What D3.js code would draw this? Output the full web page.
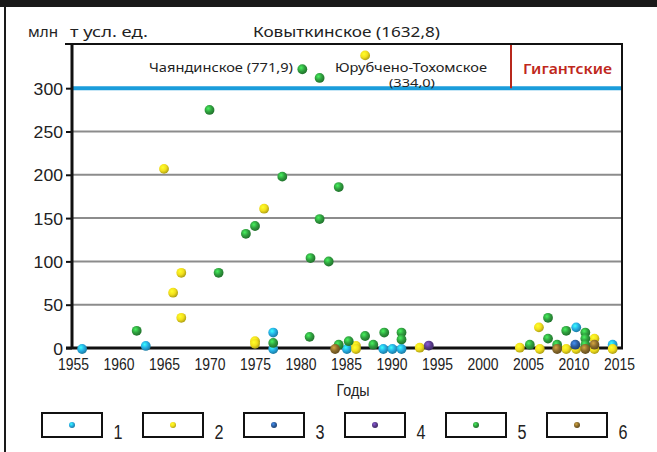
<!DOCTYPE html>
<html>
<head>
<meta charset="utf-8">
<script src="https://cdn.jsdelivr.net/npm/d3@7"></script>
<style>
  body { margin: 0; background: #fff; }
  svg { display: block; }
</style>
</head>
<body>
<div id="chart"></div>
<script>
// Категории месторождений (легенда)
const categories = ['1', '2', '3', '4', '5', '6'];

// Подписи осей
const xTicks = [1955, 1960, 1965, 1970, 1975, 1980, 1985, 1990, 1995, 2000, 2005, 2010, 2015];
const yTicks = [0, 50, 100, 150, 200, 250, 300];
const gridValues = [50, 100, 150, 200, 250];
const giantLimit = 300;

// Точки: [год открытия, запасы, млн т усл. ед.]
const series1 = [[1956, 0], [1963, 3.5], [1977, 19], [1977, 0], [1985.1, 0], [1989.1, 0],
  [1990.1, 0], [1991.1, 0], [2010.3, 25], [2014.3, 5]];
const series2 = [[1965, 208], [1976, 162], [1966.9, 88], [1966, 65], [1966.9, 36], [1975, 9],
  [1975, 6], [1986.1, 3.5], [1986.1, 0], [1993.1, 1.5], [1987.1, 339], [2004.1, 1.5],
  [2006.3, 0], [2006.2, 25], [2009.2, 0], [2010.3, 0], [2012.3, 12], [2012.3, 0], [2014.3, 0]];
const series3 = [[2010.2, 5]];
const series4 = [[1994.1, 4]];
const series5 = [[1980.2, 323], [1982.1, 313], [1970, 276], [1978, 199], [1975, 142],
  [1974, 133], [1982.1, 150], [1984.2, 187], [1981.1, 105], [1983.1, 101], [1971, 88],
  [1962, 21], [1977, 7], [1981, 14], [1984.2, 5], [1985.3, 9], [1987.1, 15], [1988, 5],
  [1989.2, 19], [1991.1, 19], [1991.1, 11], [2005.2, 5], [2007.2, 36], [2007.2, 12],
  [2008.2, 5], [2009.2, 21], [2011.3, 19], [2011.3, 12], [2011.3, 5]];
const series6 = [[1983.8, 0], [2008.2, 0], [2011.3, 0], [2012.3, 5]];

const seriesList = [series1, series2, series3, series4, series5, series6];

(function () {
  const WIDTH = 657;
  const HEIGHT = 452;

  // Границы области графика
  const PLOT = { LEFT: 72, RIGHT: 622, TOP: 44, BOTTOM: 348 };

  const COLORS = ['#25ace2', '#f2df1c', '#2c5d9e', '#5a3b8c', '#2f9e3e', '#8b6c2b'];
  const NUM_FONT = '"Liberation Sans", Arial, sans-serif';
  const TXT_FONT = '"Noto Sans", "Open Sans", sans-serif';

  const svg = d3.select('#chart').append('svg')
    .attr('width', WIDTH)
    .attr('height', HEIGHT)
    .style('background', '#fff');

  // Градиенты для «объёмных» точек
  const defs = svg.append('defs');
  COLORS.forEach((c, i) => {
    const g = defs.append('radialGradient')
      .attr('id', `ball-${i}`)
      .attr('cx', '38%').attr('cy', '35%').attr('r', '65%');
    g.append('stop').attr('offset', '0%').attr('stop-color', d3.color(c).brighter(1.2));
    g.append('stop').attr('offset', '55%').attr('stop-color', c);
    g.append('stop').attr('offset', '100%').attr('stop-color', d3.color(c).darker(0.9));
  });

  // Рамка страницы
  svg.append('rect').attr('x', 0).attr('y', 0).attr('width', WIDTH).attr('height', 7).attr('fill', '#1a1a1a');
  svg.append('line').attr('x1', 5).attr('x2', 5).attr('y1', 7).attr('y2', HEIGHT)
    .attr('stroke', '#1a1a1a').attr('stroke-width', 2);

  const x = d3.scaleLinear().domain([1955, 2015]).range([73, 619]);
  const y = d3.scaleLinear().domain([0, 351]).range([PLOT.BOTTOM, PLOT.TOP]);

  // Сетка
  svg.append('g').selectAll('line')
    .data(gridValues)
    .enter().append('line')
    .attr('x1', PLOT.LEFT).attr('x2', PLOT.RIGHT)
    .attr('y1', d => y(d)).attr('y2', d => y(d))
    .attr('stroke', '#8c8c8c').attr('stroke-width', 2);

  // Граница «гигантских» месторождений
  svg.append('line')
    .attr('x1', PLOT.LEFT).attr('x2', PLOT.RIGHT)
    .attr('y1', y(giantLimit)).attr('y2', y(giantLimit))
    .attr('stroke', '#1b9ddb').attr('stroke-width', 4);

  svg.append('line')
    .attr('x1', 511).attr('x2', 511)
    .attr('y1', PLOT.TOP).attr('y2', y(giantLimit))
    .attr('stroke', '#b8281c').attr('stroke-width', 2);

  // Рамка области графика
  svg.append('line').attr('x1', 65).attr('x2', PLOT.RIGHT + 1).attr('y1', PLOT.TOP).attr('y2', PLOT.TOP)
    .attr('stroke', '#111').attr('stroke-width', 2);
  svg.append('line').attr('x1', PLOT.RIGHT).attr('x2', PLOT.RIGHT).attr('y1', PLOT.TOP).attr('y2', PLOT.BOTTOM + 1)
    .attr('stroke', '#111').attr('stroke-width', 2);

  // Ось Y
  const yAxis = svg.append('g')
    .attr('transform', `translate(${PLOT.LEFT}, 0)`)
    .call(d3.axisLeft(y).tickValues(yTicks).tickSize(6).tickPadding(3).tickFormat(d3.format('d')));
  yAxis.select('.domain').attr('d', `M0,${PLOT.TOP}V${PLOT.BOTTOM + 1}`)
    .attr('stroke', '#111').attr('stroke-width', 3);
  yAxis.selectAll('.tick line').attr('stroke', '#111').attr('stroke-width', 2);
  yAxis.selectAll('.tick text')
    .attr('font-family', NUM_FONT).attr('font-size', 17).attr('fill', '#222')
    .attr('dy', '0.36em')
    .attr('textLength', d => String(d).length * 9.8)
    .attr('lengthAdjust', 'spacingAndGlyphs');

  // Ось X
  const xAxis = svg.append('g')
    .attr('transform', `translate(0, ${PLOT.BOTTOM})`)
    .call(d3.axisBottom(x).tickValues(xTicks).tickSize(0).tickPadding(10).tickFormat(d3.format('d')));
  xAxis.select('.domain').attr('d', `M66,0H${PLOT.RIGHT + 1}`)
    .attr('stroke', '#111').attr('stroke-width', 3);
  xAxis.selectAll('.tick text')
    .attr('font-family', NUM_FONT).attr('font-size', 17).attr('fill', '#222')
    .attr('textLength', 31)
    .attr('lengthAdjust', 'spacingAndGlyphs');

  // Точки
  const points = seriesList.flatMap((s, i) => s.map(p => ({ year: p[0], value: p[1], cat: i })));
  svg.append('g').selectAll('circle')
    .data(points)
    .enter().append('circle')
    .attr('cx', d => x(d.year))
    .attr('cy', d => y(d.value) + 1)
    .attr('r', 4.9)
    .attr('fill', d => `url(#ball-${d.cat})`);

  // Подписи
  const label = (t, px, py, opts = {}) => svg.append('text')
    .attr('x', px).attr('y', py)
    .attr('font-family', opts.font || TXT_FONT)
    .attr('font-size', opts.size || 14)
    .attr('font-weight', opts.weight || 'normal')
    .attr('fill', opts.color || '#222')
    .attr('text-anchor', opts.anchor || 'start')
    .attr('textLength', opts.len || null)
    .attr('lengthAdjust', 'spacingAndGlyphs')
    .text(t);

  label('млн', 28, 37, { size: 15, len: 30 });
  label('т усл. ед.', 70, 37, { size: 15, len: 78 });
  label('Ковыткинское (1632,8)', 253, 37, { size: 15, len: 187 });
  label('Чаяндинское (771,9)', 149, 72, { size: 13, len: 144 });
  label('Юрубчено-Тохомское', 335, 72, { size: 12, len: 152 });
  label('(334,0)', 389, 87, { size: 11, len: 46 });
  label('Гигантские', 523, 74, { size: 14, len: 89, weight: 600, color: '#c0281c' });
  label('Годы', 353, 396, { size: 17, len: 33, anchor: 'middle', font: NUM_FONT });

  // Легенда
  const legend = svg.append('g').selectAll('g')
    .data(categories)
    .enter().append('g')
    .attr('transform', (d, i) => `translate(${42 + i * 101}, 413)`);

  legend.append('rect')
    .attr('width', 60).attr('height', 24)
    .attr('fill', '#fff').attr('stroke', '#111').attr('stroke-width', 2);

  legend.append('circle')
    .attr('cx', 30).attr('cy', 12).attr('r', 3)
    .attr('fill', (d, i) => `url(#ball-${i})`);

  legend.append('text')
    .attr('x', 76).attr('y', 26)
    .attr('font-family', NUM_FONT).attr('font-size', 20).attr('fill', '#222')
    .attr('text-anchor', 'middle')
    .attr('textLength', 9).attr('lengthAdjust', 'spacingAndGlyphs')
    .text(d => d);
})();
</script>
</body>
</html>
